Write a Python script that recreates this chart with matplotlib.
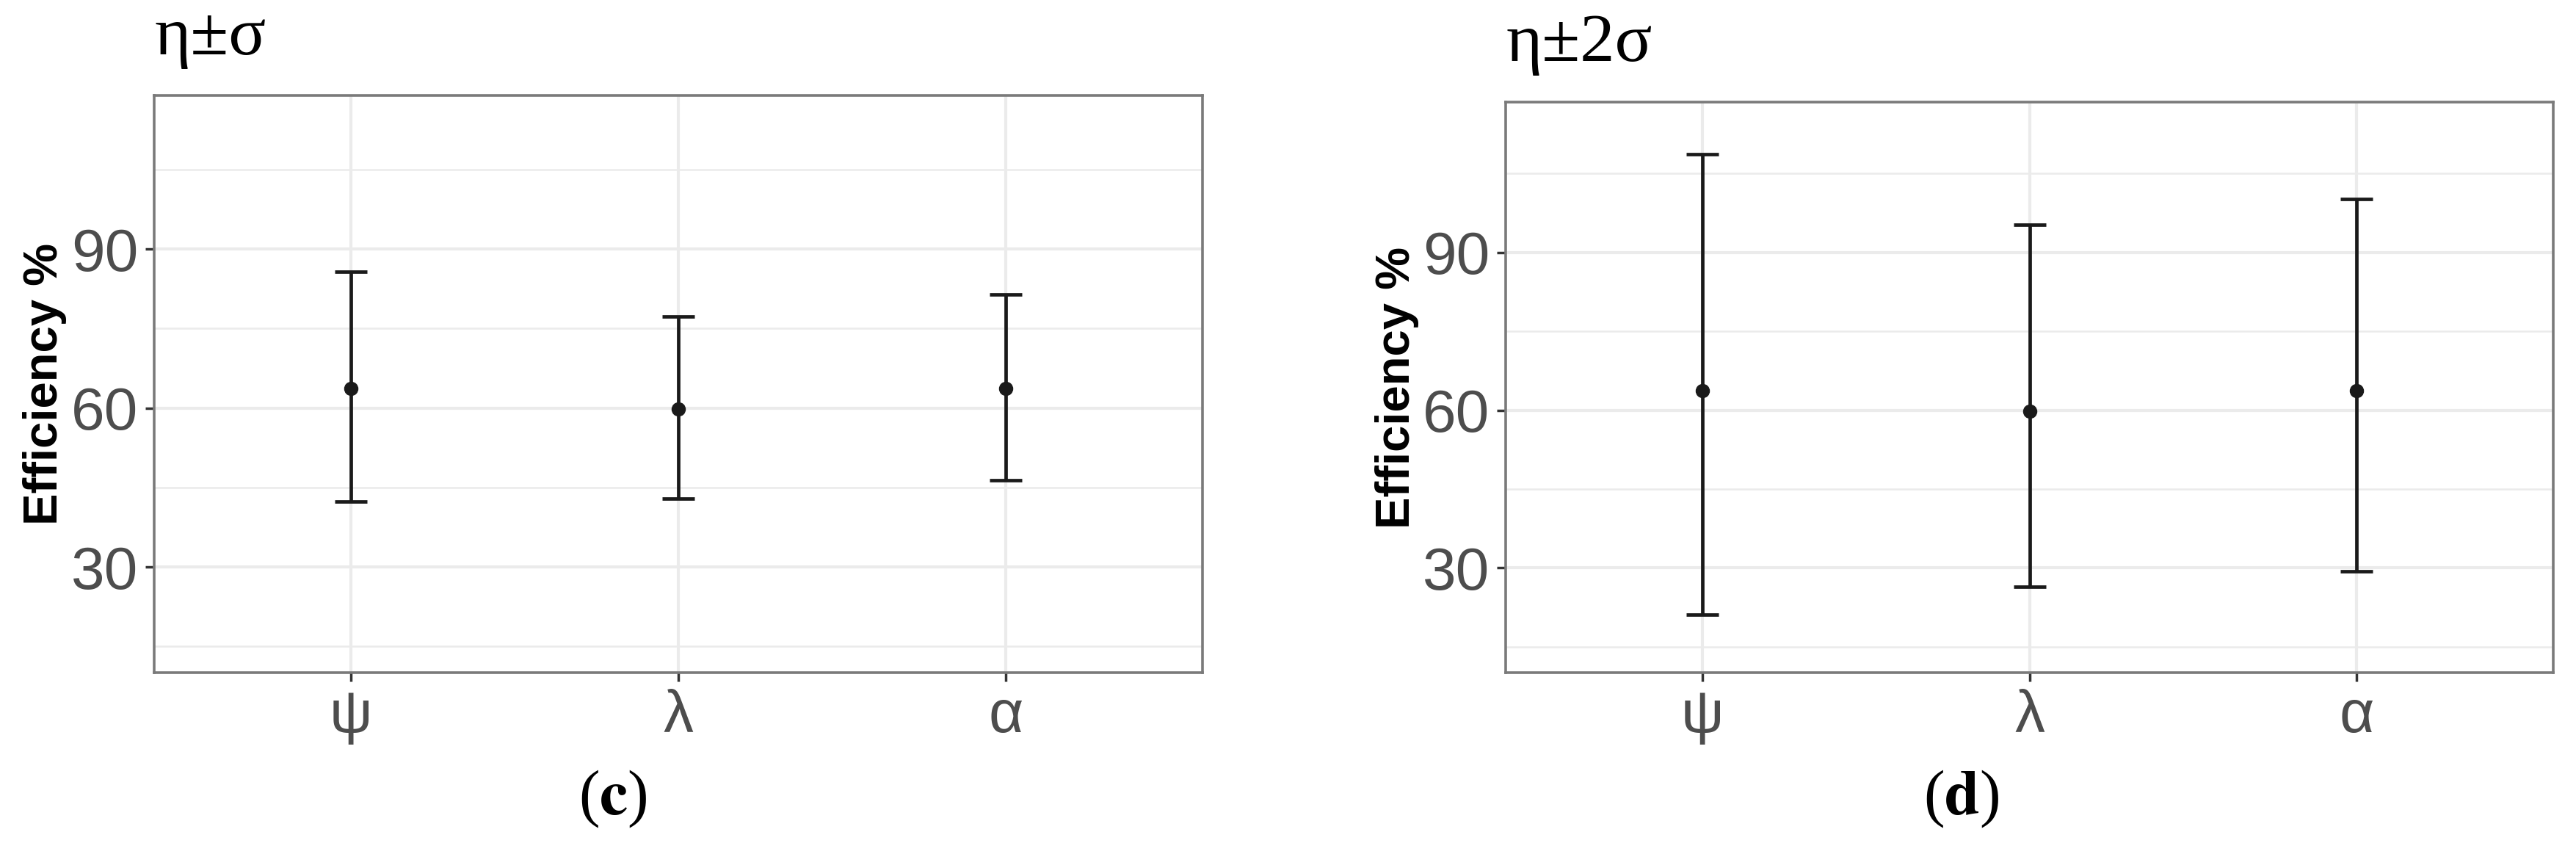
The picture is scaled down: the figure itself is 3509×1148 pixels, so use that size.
import numpy as np
import matplotlib
matplotlib.use('Agg')
import matplotlib.pyplot as plt
from matplotlib.ticker import MultipleLocator

plt.rcParams['mathtext.fontset'] = 'stix'

# values
categories = ['ψ', 'λ', 'α']
means = [63.7, 59.8, 63.7]

# panel (c): eta +- sigma
low_c = [42.3, 42.9, 46.4]
high_c = [85.7, 77.3, 81.4]

# panel (d): eta +- 2 sigma
low_d = [21.2, 26.4, 29.4]
high_d = [108.7, 95.3, 100.1]

y_ticks = [30, 60, 90]

W, H = 3509, 1148
fig = plt.figure(figsize=(W / 100, H / 100), dpi=100)

grid_col = '#ebebeb'
tick_col = '#4d4d4d'


def panel(rect, low, high, ylim, title, title_y, label, label_x):
    ax = fig.add_axes(rect)
    x = np.arange(1, len(categories) + 1)
    m = np.array(means)
    yerr = [m - np.array(low), np.array(high) - m]
    ax.errorbar(x, m, yerr=yerr, fmt='o', color='#1a1a1a', ecolor='#1a1a1a',
                markersize=13, elinewidth=3.4, capsize=16, capthick=3.4, zorder=3)
    ax.set_xlim(0.4, 3.6)
    ax.set_ylim(*ylim)
    ax.set_xticks(x)
    ax.set_xticklabels(categories)
    ax.set_yticks(y_ticks)
    ax.yaxis.set_minor_locator(MultipleLocator(15))
    ax.grid(True, which='major', color=grid_col, linewidth=3.0, zorder=0)
    ax.grid(True, which='minor', axis='y', color=grid_col, linewidth=1.8, zorder=0)
    ax.tick_params(axis='both', which='major', length=8.5, width=2.5, color='#333333',
                   labelcolor=tick_col, labelsize=59, pad=7)
    ax.tick_params(axis='y', which='minor', length=0)
    for lab in ax.get_xticklabels() + ax.get_yticklabels():
        lab.set_family('Liberation Sans')
    for s in ax.spines.values():
        s.set_color('#7a7a7a')
        s.set_linewidth(2.6)
    ax.set_axisbelow(True)
    ax.set_ylabel('Efficiency %', fontsize=47, fontweight='bold',
                  family='Liberation Sans', color='black')
    ax.yaxis.set_label_coords(-0.083, 0.5)
    fig.text(rect[0], title_y, title, fontsize=68, family='Liberation Serif',
             ha='left', va='baseline')
    fig.text(label_x, 1 - 1088 / H, label, fontsize=62, family='Liberation Serif',
             ha='center', va='center')
    return ax


panel([210 / W, 232 / H, 1428 / W, 786 / H], low_c, high_c, (10.05, 119.0),
      'η±σ', 1 - 74 / H, r'($\mathbf{c}$)', 835 / W)
panel([2051 / W, 232 / H, 1427 / W, 777 / H], low_d, high_d, (10.1, 118.6),
      'η±2σ', 1 - 83 / H, r'($\mathbf{d}$)', 2672 / W)

fig.savefig('out.png', dpi=100)
